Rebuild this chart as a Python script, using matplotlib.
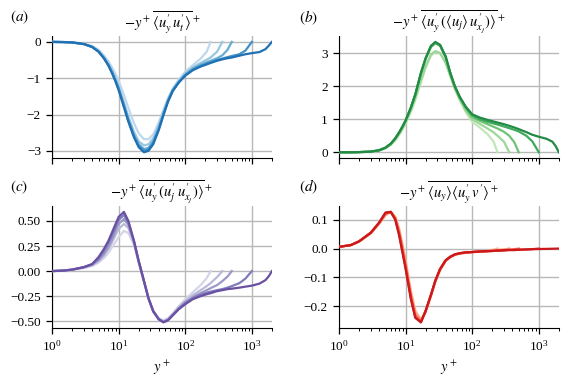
"""Four-panel budget terms plotted against y+ on a log axis."""

import matplotlib.pyplot as plt
import numpy as np

plt.rcParams["font.family"] = ["Liberation Serif", "DejaVu Serif"]
plt.rcParams["mathtext.fontset"] = "stix"

# y+ sample points; every curve uses the leading part up to its own end
YPLUS = [1, 1.5, 2, 3, 4, 5, 6, 7, 8, 9, 10, 12, 14, 17, 20, 24, 28, 33, 40, 47,
         55, 65, 80, 100, 130, 170, 210, 240, 300, 360, 430, 500, 650, 800,
         1000, 1300, 1600, 1800, 2000]

# (a) -y+ <u'_y u'_t>+ , lightest to darkest
A_VALS = [
    [0, -0.004, -0.012, -0.05, -0.11, -0.22, -0.37, -0.53, -0.71, -0.89, -1.07,
     -1.46, -1.82, -2.24, -2.52, -2.68, -2.68, -2.55, -2.22, -1.87, -1.55, -1.28,
     -1.04, -0.82, -0.64, -0.46, -0.27, 0],
    [0, -0.005, -0.014, -0.055, -0.13, -0.25, -0.42, -0.6, -0.8, -1.01, -1.22,
     -1.67, -2.06, -2.48, -2.74, -2.85, -2.82, -2.66, -2.3, -1.93, -1.59, -1.31,
     -1.08, -0.87, -0.7, -0.58, -0.49, -0.43, -0.27, 0],
    [0, -0.005, -0.015, -0.058, -0.135, -0.26, -0.43, -0.62, -0.83, -1.05, -1.27,
     -1.73, -2.13, -2.56, -2.82, -2.95, -2.92, -2.74, -2.37, -1.98, -1.62, -1.33,
     -1.1, -0.9, -0.74, -0.63, -0.56, -0.52, -0.45, -0.37, -0.22, 0],
    [0, -0.005, -0.015, -0.06, -0.14, -0.27, -0.45, -0.64, -0.86, -1.08, -1.3,
     -1.77, -2.17, -2.6, -2.86, -3.0, -2.96, -2.78, -2.4, -2.0, -1.63, -1.34,
     -1.11, -0.92, -0.76, -0.66, -0.6, -0.56, -0.5, -0.46, -0.42, -0.39, -0.34,
     -0.24, 0],
    [0, -0.005, -0.015, -0.06, -0.14, -0.27, -0.45, -0.65, -0.87, -1.1, -1.33,
     -1.8, -2.2, -2.63, -2.9, -3.04, -3.0, -2.82, -2.43, -2.02, -1.65, -1.35,
     -1.12, -0.93, -0.78, -0.68, -0.62, -0.58, -0.52, -0.48, -0.45, -0.43, -0.38,
     -0.34, -0.31, -0.28, -0.2, -0.1, 0],
]

# (b) -y+ <u'_y (<u_j> u'_xj)>+
B_VALS = [
    [0, 0, 0.004, 0.018, 0.05, 0.12, 0.22, 0.36, 0.52, 0.69, 0.86,
     1.22, 1.58, 2.12, 2.55, 2.92, 3.04, 3.0, 2.72, 2.32, 1.92, 1.58,
     1.22, 0.92, 0.75, 0.55, 0.32, 0],
    [0, 0, 0.004, 0.019, 0.055, 0.13, 0.24, 0.38, 0.55, 0.72, 0.9,
     1.27, 1.64, 2.18, 2.6, 2.96, 3.06, 3.0, 2.7, 2.3, 1.92, 1.6,
     1.26, 1.0, 0.86, 0.72, 0.6, 0.5, 0.32, 0],
    [0, 0, 0.005, 0.02, 0.06, 0.14, 0.26, 0.42, 0.6, 0.78, 0.96,
     1.35, 1.75, 2.38, 2.82, 3.18, 3.3, 3.22, 2.88, 2.38, 1.98, 1.66,
     1.34, 1.07, 0.95, 0.85, 0.77, 0.72, 0.62, 0.5, 0.3, 0],
    [0, 0, 0.005, 0.02, 0.06, 0.14, 0.26, 0.42, 0.6, 0.78, 0.96,
     1.35, 1.75, 2.4, 2.84, 3.2, 3.32, 3.23, 2.88, 2.38, 1.98, 1.67,
     1.36, 1.12, 1.0, 0.92, 0.87, 0.84, 0.78, 0.73, 0.68, 0.63, 0.5, 0.33, 0],
    [0, 0, 0.005, 0.02, 0.06, 0.14, 0.26, 0.42, 0.6, 0.78, 0.96,
     1.35, 1.75, 2.4, 2.85, 3.22, 3.34, 3.25, 2.9, 2.4, 2.0, 1.68,
     1.38, 1.15, 1.05, 0.98, 0.93, 0.9, 0.85, 0.8, 0.75, 0.7, 0.61, 0.53,
     0.47, 0.41, 0.32, 0.18, 0],
]

# (c) -y+ <u'_y (u'_j u'_xj)>+
C_VALS = [
    [0, 0.004, 0.012, 0.03, 0.05, 0.085, 0.13, 0.18, 0.24, 0.29, 0.34,
     0.4, 0.38, 0.26, 0.08, -0.11, -0.27, -0.39, -0.47, -0.49, -0.47, -0.42,
     -0.35, -0.28, -0.21, -0.14, -0.07, 0],
    [0, 0.004, 0.013, 0.035, 0.06, 0.1, 0.155, 0.22, 0.29, 0.36, 0.42,
     0.47, 0.43, 0.28, 0.09, -0.1, -0.27, -0.4, -0.48, -0.5, -0.48, -0.43,
     -0.36, -0.3, -0.24, -0.19, -0.15, -0.12, -0.06, 0],
    [0, 0.005, 0.014, 0.037, 0.065, 0.11, 0.17, 0.24, 0.32, 0.4, 0.47,
     0.52, 0.46, 0.29, 0.095, -0.1, -0.27, -0.4, -0.48, -0.505, -0.485, -0.435,
     -0.37, -0.31, -0.26, -0.22, -0.19, -0.17, -0.14, -0.1, -0.055, 0],
    [0, 0.005, 0.015, 0.039, 0.068, 0.125, 0.2, 0.28, 0.36, 0.44, 0.51,
     0.56, 0.48, 0.295, 0.1, -0.1, -0.27, -0.4, -0.48, -0.51, -0.49, -0.44,
     -0.375, -0.32, -0.27, -0.235, -0.215, -0.205, -0.19, -0.18, -0.165, -0.15,
     -0.12, -0.075, 0],
    [0, 0.005, 0.015, 0.04, 0.07, 0.14, 0.22, 0.3, 0.39, 0.47, 0.54,
     0.59, 0.5, 0.3, 0.1, -0.1, -0.27, -0.4, -0.48, -0.51, -0.49, -0.44,
     -0.38, -0.33, -0.28, -0.25, -0.23, -0.22, -0.2, -0.19, -0.18, -0.175,
     -0.165, -0.155, -0.145, -0.125, -0.09, -0.05, 0],
]

# (d) -y+ <u_y><u'_y v'>+
D_VALS = [
    [0.006, 0.012, 0.024, 0.052, 0.085, 0.115, 0.126, 0.11, 0.07, 0.015, -0.04,
     -0.145, -0.215, -0.245, -0.22, -0.165, -0.115, -0.075, -0.043, -0.03, -0.022,
     -0.018, -0.015, -0.013, -0.011, -0.008, -0.004, 0],
    [0.006, 0.012, 0.024, 0.053, 0.087, 0.118, 0.127, 0.107, 0.062, 0.005, -0.05,
     -0.155, -0.225, -0.25, -0.218, -0.163, -0.113, -0.073, -0.042, -0.029, -0.021,
     -0.017, -0.014, -0.012, -0.01, -0.008, -0.006, -0.005, -0.003, 0],
    [0.006, 0.012, 0.025, 0.054, 0.088, 0.121, 0.127, 0.104, 0.055, -0.005, -0.06,
     -0.165, -0.232, -0.253, -0.217, -0.162, -0.112, -0.072, -0.041, -0.029, -0.021,
     -0.017, -0.014, -0.012, -0.01, -0.009, -0.008, -0.007, -0.006, -0.004, -0.002, 0],
    [0.006, 0.012, 0.025, 0.055, 0.089, 0.123, 0.127, 0.102, 0.05, -0.01, -0.065,
     -0.17, -0.237, -0.255, -0.216, -0.161, -0.111, -0.071, -0.041, -0.028, -0.02,
     -0.016, -0.013, -0.012, -0.01, -0.009, -0.008, -0.007, -0.006, -0.005, -0.005,
     -0.004, -0.003, -0.002, 0],
    [0.006, 0.012, 0.025, 0.055, 0.09, 0.125, 0.127, 0.1, 0.045, -0.015, -0.07,
     -0.175, -0.24, -0.255, -0.215, -0.16, -0.11, -0.07, -0.04, -0.028, -0.02,
     -0.016, -0.013, -0.012, -0.01, -0.009, -0.008, -0.007, -0.006, -0.005, -0.005,
     -0.004, -0.003, -0.002, -0.0015, -0.001, -0.0005, -0.0002, 0],
]

TITLES = [
    r"$-y^+\overline{\langle u_y^{\prime}\, u_t^{\prime}\rangle}^+$",
    r"$-y^+\overline{\langle u_y^{\prime}\,(\langle u_j\rangle\, u_{x_j}^{\prime})\rangle}^+$",
    r"$-y^+\overline{\langle u_y^{\prime}\,(u_j^{\prime}\, u_{x_j}^{\prime})\rangle}^+$",
    r"$-y^+\overline{\langle u_y\rangle\langle u_y^{\prime}\, v^{\prime}\rangle}^+$",
]
LABELS = [r"$(a)$", r"$(b)$", r"$(c)$", r"$(d)$"]
CMAPS = ["Blues", "Greens", "Purples", "Reds"]
Y_TICKS = [[0, -1, -2, -3], [0, 1, 2, 3], [0.5, 0.25, 0.0, -0.25, -0.5], [0.1, 0.0, -0.1, -0.2]]

fig, axes = plt.subplots(2, 2, figsize=(5.72, 3.87), dpi=100)
fig.subplots_adjust(left=0.091, right=0.977, bottom=0.153, top=0.906, wspace=0.305, hspace=0.40)

for i, (ax, vals) in enumerate(zip(axes.flat, [A_VALS, B_VALS, C_VALS, D_VALS])):
    colors = plt.get_cmap(CMAPS[i])(np.linspace(0.27, 0.75, len(vals)))
    for v, c in zip(vals, colors):
        ax.plot(YPLUS[:len(v)], v, color=c, lw=1.6, zorder=3)
    ax.set_xscale("log")
    ax.set_xlim(1, 2000)
    ax.set_yticks(Y_TICKS[i])
    if i == 2:
        ax.set_yticklabels(["0.50", "0.25", "0.00", "\u22120.25", "\u22120.50"])
    ax.grid(True, which="major", color="#b8b8b8", lw=1.0, zorder=0)
    for s in ["top", "right"]:
        ax.spines[s].set_visible(False)
    ax.tick_params(which="major", length=4.5, width=0.9, labelsize=9.5)
    ax.tick_params(which="minor", length=2.5, width=0.7)
    ax.set_title(TITLES[i], fontsize=10.5, pad=5)
    if i < 2:
        ax.tick_params(labelbottom=False)
    else:
        ax.set_xlabel(r"$y^+$", fontsize=10.5)

fig.text(0.018, 0.955, LABELS[0], fontsize=11, va="center")
fig.text(0.523, 0.955, LABELS[1], fontsize=11, va="center")
fig.text(0.018, 0.517, LABELS[2], fontsize=11, va="center")
fig.text(0.523, 0.517, LABELS[3], fontsize=11, va="center")

fig.savefig("out.png", dpi=100)
